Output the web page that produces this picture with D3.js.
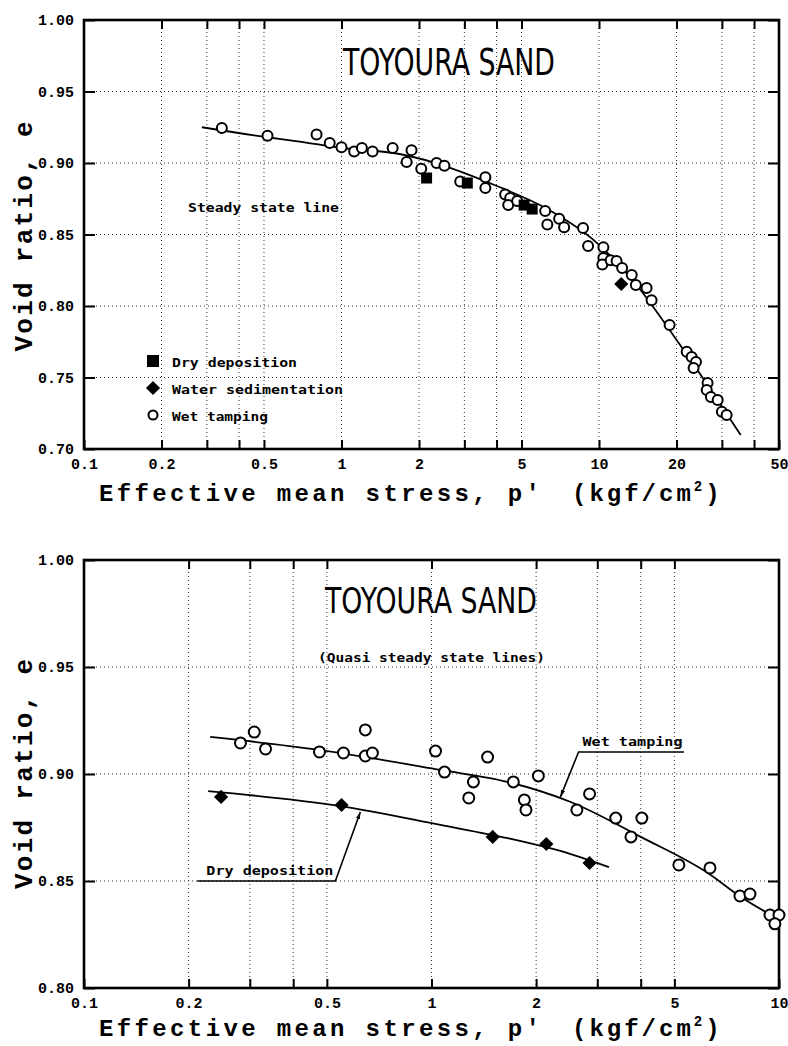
<!DOCTYPE html>
<html>
<head>
<meta charset="utf-8">
<script src="https://cdn.jsdelivr.net/npm/d3@7"></script>
<style>
  body { margin: 0; background: #fff; }
  svg { display: block; }
</style>
</head>
<body>
<svg id="chart" width="788" height="1046"></svg>
<script>
// ---- data: [p' (kgf/cm2), void ratio e] ----
var topWetTamping = [
  [0.343, 0.9245], [0.516, 0.919], [0.80, 0.920], [0.90, 0.914], [1.0, 0.911],
  [1.12, 0.908], [1.20, 0.9105], [1.32, 0.908], [1.58, 0.9105], [1.79, 0.9007],
  [1.87, 0.909], [2.04, 0.896], [2.34, 0.900], [2.51, 0.898], [2.89, 0.887],
  [3.62, 0.890], [3.62, 0.8825], [4.32, 0.878], [4.52, 0.8755], [4.44, 0.8706],
  [4.81, 0.8734], [6.18, 0.8664], [6.3, 0.857], [7.0, 0.861], [7.32, 0.855],
  [8.67, 0.8545], [9.07, 0.842], [10.4, 0.841], [10.4, 0.8336], [10.3, 0.829],
  [11.1, 0.832], [11.7, 0.8315], [12.3, 0.8266], [13.4, 0.8217], [13.9, 0.8147],
  [15.3, 0.8126], [16.0, 0.804], [18.8, 0.7867], [21.9, 0.768], [22.9, 0.7643],
  [23.8, 0.7608], [23.3, 0.7566], [26.4, 0.7462], [26.2, 0.7413], [27.2, 0.7364],
  [28.9, 0.7343], [30.0, 0.726], [31.3, 0.7238]
];
var topDryDeposition = [[2.14, 0.8895], [3.08, 0.886], [5.12, 0.8706], [5.50, 0.8678]];
var topWaterSedimentation = [[12.2, 0.8154]];
var topSteadyLine = [
  [0.287, 0.925], [0.516, 0.918], [0.687, 0.915], [1.0, 0.9105], [1.68, 0.9063],
  [4.10, 0.8832], [6.2, 0.8685], [9.83, 0.844], [14.3, 0.8126], [17.1, 0.7937],
  [20.4, 0.7741], [24.4, 0.7538], [29.2, 0.7329], [35.5, 0.7098]
];

var bottomWetTamping = [
  [0.282, 0.9145], [0.309, 0.9196], [0.333, 0.9117], [0.476, 0.9103], [0.558, 0.9098],
  [0.645, 0.9206], [0.645, 0.9084], [0.676, 0.9098], [1.027, 0.9107], [1.09, 0.9009],
  [1.28, 0.8888], [1.32, 0.8963], [1.45, 0.9079], [1.72, 0.8963], [1.85, 0.8879],
  [1.87, 0.8832], [2.03, 0.8991], [2.62, 0.8832], [2.85, 0.8907], [3.39, 0.8794],
  [3.75, 0.8706], [4.03, 0.8794], [5.15, 0.8575], [6.33, 0.8561], [7.72, 0.843],
  [8.25, 0.8439], [9.42, 0.8341], [10.0, 0.8341], [9.73, 0.830]
];
var bottomDryDeposition = [[0.248, 0.8893], [0.551, 0.8855], [1.50, 0.8706], [2.14, 0.8673], [2.85, 0.8584]];
var bottomWetLine = [
  [0.2307, 0.9173], [0.479, 0.9112], [1.061, 0.9019], [1.656, 0.8963], [2.516, 0.8869],
  [4.0, 0.8706], [6.24, 0.8537], [7.77, 0.8425], [10.0, 0.832]
];
var bottomDryLine = [[0.2277, 0.892], [0.547, 0.885], [1.061, 0.8762], [1.656, 0.870], [2.516, 0.8626], [3.24, 0.8565]];

// ---- ticks ----
var topXGrid = [0.2, 0.3, 0.4, 0.5, 1, 2, 3, 4, 5, 10, 20, 30, 40];
var topXLabels = [0.1, 0.2, 0.5, 1, 2, 5, 10, 20, 50];
var topYTicks = [0.70, 0.75, 0.80, 0.85, 0.90, 0.95, 1.00];
var bottomXGrid = [0.2, 0.3, 0.4, 0.5, 1, 2, 3, 4, 5];
var bottomXLabels = [0.1, 0.2, 0.5, 1, 2, 5, 10];
var bottomYTicks = [0.80, 0.85, 0.90, 0.95, 1.00];

var svg = d3.select("#chart");
var LEFT = 84, RIGHT = 779;
var monoFont = "'Liberation Mono', 'DejaVu Sans Mono', monospace";
var labelFont = "'DejaVu Sans Mono', 'Liberation Mono', monospace";
var narrowFont = "'Liberation Sans Narrow', 'DejaVu Sans Condensed', 'Liberation Sans', sans-serif";

svg.append("rect").attr("width", 788).attr("height", 1046).attr("fill", "#fff");

var defs = svg.append("defs");
defs.append("marker")
  .attr("id", "arrow")
  .attr("viewBox", "0 0 10 10")
  .attr("refX", 10).attr("refY", 5)
  .attr("markerWidth", 7).attr("markerHeight", 7)
  .attr("markerUnits", "userSpaceOnUse")
  .attr("orient", "auto")
  .append("path").attr("d", "M0,2 L10,5 L0,8 Z").attr("fill", "#000");

function drawPanel(p) {
  var x = d3.scaleLog().domain(p.xDomain).range([LEFT, RIGHT]);
  var y = d3.scaleLinear().domain(p.yDomain).range([p.bottom, p.top]);
  var g = svg.append("g");

  //dotted grid
  g.append("g").selectAll("line").data(p.xGrid).enter().append("line")
    .attr("x1", d => x(d)).attr("x2", d => x(d))
    .attr("y1", p.top).attr("y2", p.bottom)
    .attr("stroke", "#333").attr("stroke-width", 1).attr("stroke-dasharray", "1,3");
  g.append("g").selectAll("line").data(p.yTicks.slice(1, -1)).enter().append("line")
    .attr("x1", LEFT).attr("x2", RIGHT)
    .attr("y1", d => y(d)).attr("y2", d => y(d))
    .attr("stroke", "#333").attr("stroke-width", 1).attr("stroke-dasharray", "1,3");

  var xTickVals = p.xGrid.concat(p.xLabels.filter(d => p.xGrid.indexOf(d) < 0));
  var fmtX = d3.format("~g");

  var axB = g.append("g").attr("transform", "translate(0," + p.bottom + ")")
    .call(d3.axisBottom(x).tickValues(xTickVals).tickSizeInner(-9).tickSizeOuter(0).tickPadding(9)
      .tickFormat(d => p.xLabels.indexOf(d) >= 0 ? fmtX(d) : ""));
  var axT = g.append("g").attr("transform", "translate(0," + p.top + ")")
    .call(d3.axisTop(x).tickValues(p.xGrid).tickSizeInner(-9).tickSizeOuter(0).tickFormat(""));
  var axL = g.append("g").attr("transform", "translate(" + LEFT + ",0)")
    .call(d3.axisLeft(y).tickValues(p.yTicks).tickSizeInner(-11).tickSizeOuter(0).tickPadding(10)
      .tickFormat(d3.format(".2f")));
  var axR = g.append("g").attr("transform", "translate(" + RIGHT + ",0)")
    .call(d3.axisRight(y).tickValues(p.yTicks).tickSizeInner(-11).tickSizeOuter(0).tickFormat(""));

  [axB, axT, axL, axR].forEach(function(a) {
    a.select(".domain").remove();
    a.selectAll(".tick line").attr("stroke", "#000").attr("stroke-width", 2);
    a.selectAll(".tick text")
      .attr("font-family", monoFont).attr("font-size", 15).attr("font-weight", "bold")
      .attr("fill", "#000");
  });

  //frame
  g.append("rect")
    .attr("x", LEFT).attr("y", p.top)
    .attr("width", RIGHT - LEFT).attr("height", p.bottom - p.top)
    .attr("fill", "none").attr("stroke", "#000").attr("stroke-width", 2.6);

  //title
  g.append("text")
    .attr("x", p.titleX).attr("y", p.top + p.titleDy)
    .attr("font-family", narrowFont).attr("font-size", p.titleSize)
    .attr("textLength", 212).attr("lengthAdjust", "spacingAndGlyphs")
    .text("TOYOURA SAND");

  //axis titles
  var ty = p.bottom + p.xTitleDy;
  g.append("text")
    .attr("x", 99).attr("y", ty)
    .attr("font-family", monoFont).attr("font-size", 24).attr("font-weight", "bold")
    .attr("textLength", 441).attr("lengthAdjust", "spacing")
    .text("Effective mean stress, p'");
  var xt2 = g.append("text")
    .attr("x", 572).attr("y", ty)
    .attr("font-family", monoFont).attr("font-size", 24).attr("font-weight", "bold")
    .attr("letter-spacing", 3);
  xt2.append("tspan").text("(kgf/cm");
  xt2.append("tspan").attr("font-size", 14).attr("dy", -10).text("2");
  xt2.append("tspan").attr("dy", 10).text(")");

  var ymid = (p.top + p.bottom) / 2 + p.yTitleShift;
  g.append("text")
    .attr("transform", "translate(32," + ymid + ") rotate(-90)")
    .attr("text-anchor", "middle")
    .attr("font-family", monoFont).attr("font-size", 26).attr("font-weight", "bold")
    .attr("textLength", 230).attr("lengthAdjust", "spacing")
    .text("Void ratio, e");

  return { g: g, x: x, y: y };
}

function lineGen(x, y) {
  return d3.line().x(d => x(d[0])).y(d => y(d[1])).curve(d3.curveMonotoneX);
}

function circles(g, x, y, data, r) {
  g.append("g").selectAll("circle").data(data).enter().append("circle")
    .attr("cx", d => x(d[0])).attr("cy", d => y(d[1])).attr("r", r)
    .attr("fill", "#fff").attr("stroke", "#000").attr("stroke-width", 2);
}

function squares(g, x, y, data, s) {
  g.append("g").selectAll("rect").data(data).enter().append("rect")
    .attr("x", d => x(d[0]) - s / 2).attr("y", d => y(d[1]) - s / 2)
    .attr("width", s).attr("height", s).attr("fill", "#000");
}

function diamonds(g, x, y, data, s) {
  g.append("g").selectAll("rect").data(data).enter().append("rect")
    .attr("x", -s / 2).attr("y", -s / 2).attr("width", s).attr("height", s)
    .attr("transform", d => "translate(" + x(d[0]) + "," + y(d[1]) + ") rotate(45)")
    .attr("fill", "#000");
}

function smallLabel(g, x, y, txt, len, size) {
  return g.append("text")
    .attr("x", x).attr("y", y)
    .attr("font-family", labelFont).attr("font-size", size || 13).attr("font-weight", "bold")
    .attr("textLength", len).attr("lengthAdjust", "spacingAndGlyphs")
    .text(txt);
}

// ---- top panel ----
var topPanel = drawPanel({
  top: 20, bottom: 449, xDomain: [0.1, 50], yDomain: [0.70, 1.00],
  xGrid: topXGrid, xLabels: topXLabels, yTicks: topYTicks,
  titleX: 343, titleDy: 55, titleSize: 38, yTitleShift: 2, xTitleDy: 52
});
topPanel.g.append("path").datum(topSteadyLine)
  .attr("d", lineGen(topPanel.x, topPanel.y))
  .attr("fill", "none").attr("stroke", "#000").attr("stroke-width", 1.8);
circles(topPanel.g, topPanel.x, topPanel.y, topWetTamping, 5);
squares(topPanel.g, topPanel.x, topPanel.y, topDryDeposition, 11);
diamonds(topPanel.g, topPanel.x, topPanel.y, topWaterSedimentation, 10);

smallLabel(topPanel.g, 188, 212, "Steady state line", 151);

//legend
var legendItems = ["Dry deposition", "Water sedimentation", "Wet tamping"];
var legendLens = [125, 171, 96];
legendItems.forEach(function(name, i) {
  var cy = 361 + i * 27, cx = 153;
  if (i === 0) topPanel.g.append("rect").attr("x", cx - 6).attr("y", cy - 6).attr("width", 12).attr("height", 12).attr("fill", "#000");
  if (i === 1) topPanel.g.append("rect").attr("x", -5).attr("y", -5).attr("width", 10).attr("height", 10)
    .attr("transform", "translate(" + cx + "," + cy + ") rotate(45)").attr("fill", "#000");
  if (i === 2) topPanel.g.append("circle").attr("cx", cx).attr("cy", cy).attr("r", 4.5)
    .attr("fill", "#fff").attr("stroke", "#000").attr("stroke-width", 2);
  smallLabel(topPanel.g, 172, cy + 6, name, legendLens[i]);
});

// ---- bottom panel ----
var bot = drawPanel({
  top: 560, bottom: 988, xDomain: [0.1, 10], yDomain: [0.80, 1.00],
  xGrid: bottomXGrid, xLabels: bottomXLabels, yTicks: bottomYTicks,
  titleX: 325, titleDy: 53, titleSize: 35, yTitleShift: 0, xTitleDy: 48
});
[bottomWetLine, bottomDryLine].forEach(function(l) {
  bot.g.append("path").datum(l)
    .attr("d", lineGen(bot.x, bot.y))
    .attr("fill", "none").attr("stroke", "#000").attr("stroke-width", 1.8);
});
circles(bot.g, bot.x, bot.y, bottomWetTamping, 5.5);
diamonds(bot.g, bot.x, bot.y, bottomDryDeposition, 10);

smallLabel(bot.g, 318, 662, "(Quasi steady state lines)", 227);

//leader lines
var leaders = [
  { pts: [[5.33, 0.9103], [2.65, 0.9103], [2.35, 0.8893]], text: "Wet tamping", tx: 2.72, len: 100 },
  { pts: [[0.2117, 0.85], [0.529, 0.85], [0.624, 0.8822]], text: "Dry deposition", tx: 0.225, len: 127 }
];
var leaderLine = d3.line().x(d => bot.x(d[0])).y(d => bot.y(d[1]));
leaders.forEach(function(l) {
  bot.g.append("path")
    .attr("d", leaderLine(l.pts))
    .attr("fill", "none").attr("stroke", "#000").attr("stroke-width", 1.6)
    .attr("marker-end", "url(#arrow)");
  smallLabel(bot.g, bot.x(l.tx), bot.y(l.pts[0][1]) - 6, l.text, l.len);
});
</script>
</body>
</html>
